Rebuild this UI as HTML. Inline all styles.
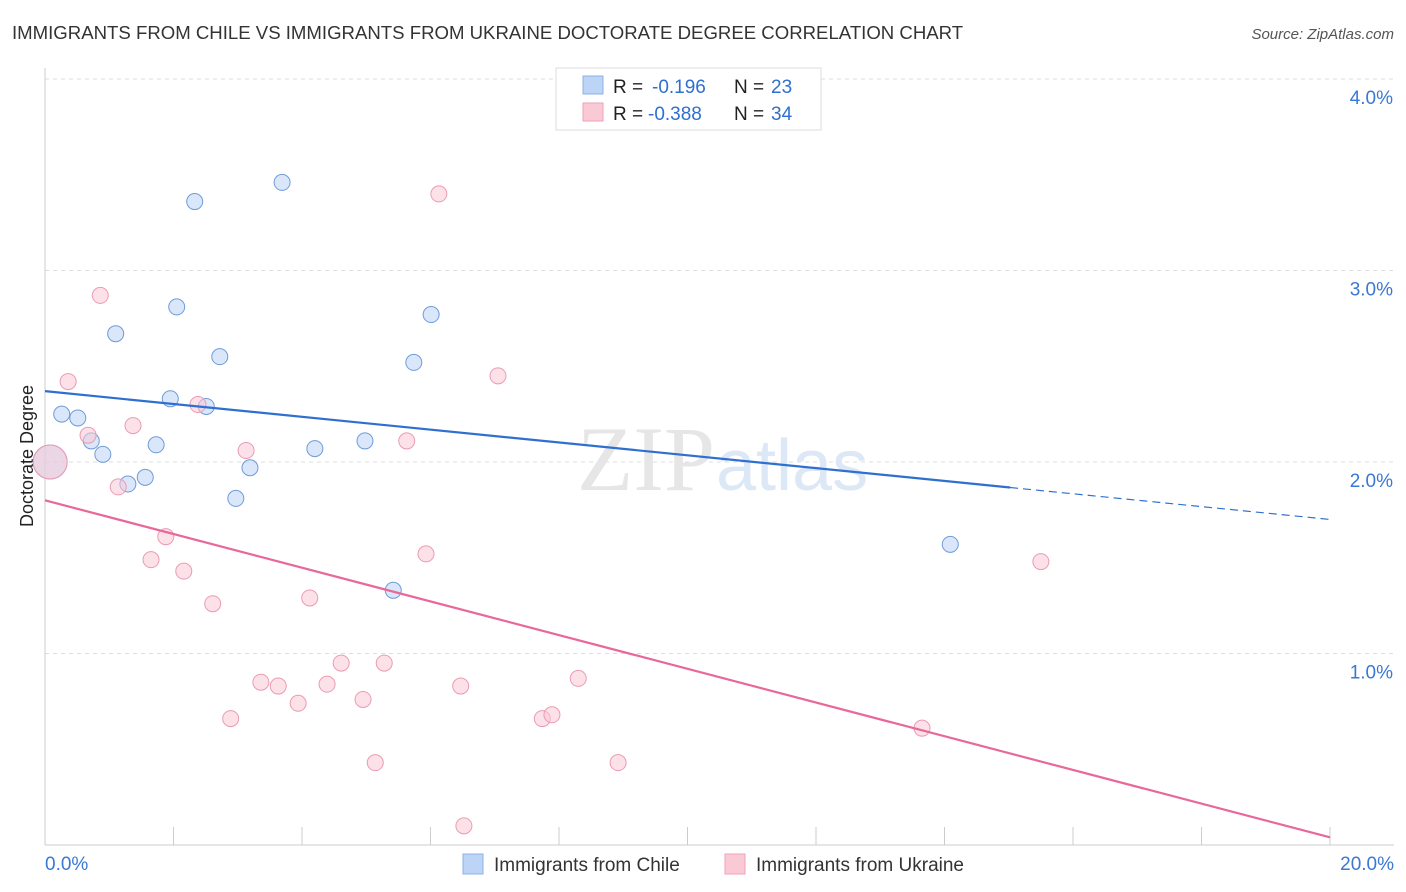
<!DOCTYPE html>
<html><head><meta charset="utf-8">
<style>
body{margin:0;background:#fff;font-family:"Liberation Sans",sans-serif;}
svg{display:block}
</style></head>
<body>
<svg id="chart" width="1406" height="892" xmlns="http://www.w3.org/2000/svg">
<text x="12" y="39" font-size="18.6" fill="#333">IMMIGRANTS FROM CHILE VS IMMIGRANTS FROM UKRAINE DOCTORATE DEGREE CORRELATION CHART</text>
<text x="1394" y="39" font-size="15" fill="#555" font-style="italic" text-anchor="end">Source: ZipAtlas.com</text>
<g id="grid"></g>
<text x="715" y="490" font-size="92" fill="#e6e6e6" text-anchor="end" font-family="Liberation Serif">ZIP</text>
<text x="716" y="490" font-size="72" fill="#dce8f6">atlas</text>
<text transform="translate(33,456) rotate(-90)" font-size="18" fill="#222" text-anchor="middle">Doctorate Degree</text>
<g id="marks"></g>
<g>
<rect x="556" y="68" width="265" height="62" fill="#fff" stroke="#ddd"/>
<rect x="583" y="76" width="20" height="18" fill="#bcd4f6" stroke="#8db0e6"/>
<text x="613" y="93" font-size="19" fill="#222">R = <tspan x="652" fill="#2f6fd0">-0.196</tspan><tspan x="734">N = </tspan><tspan x="771" fill="#2f6fd0">23</tspan></text>
<rect x="583" y="103" width="20" height="18" fill="#f9c9d6" stroke="#f0a2b8"/>
<text x="613" y="120" font-size="19" fill="#222">R = <tspan x="648" fill="#2f6fd0">-0.388</tspan><tspan x="734">N = </tspan><tspan x="771" fill="#2f6fd0">34</tspan></text>
</g>
<g>
<rect x="463" y="854" width="20" height="20" fill="#bcd4f6" stroke="#8db0e6"/>
<text x="494" y="871" font-size="19" fill="#333">Immigrants from Chile</text>
<rect x="725" y="854" width="20" height="20" fill="#f9c9d6" stroke="#f0a2b8"/>
<text x="756" y="871" font-size="19" fill="#333">Immigrants from Ukraine</text>
</g>
</svg>
<script>
const yTicks=[1,2,3,4];
const yTickLabels=["1.0%","2.0%","3.0%","4.0%"];
const xTickLabels=["0.0%","20.0%"];
const chileX=[0.26,0.51,0.72,0.9,1.1,1.29,1.56,1.73,1.95,2.05,2.33,2.51,2.72,2.97,3.19,3.69,4.2,4.98,5.42,5.74,6.01,14.09,0.08];
const chileY=[2.25,2.23,2.11,2.04,2.67,1.885,1.92,2.09,2.33,2.81,3.36,2.29,2.55,1.81,1.97,3.46,2.07,2.11,1.33,2.52,2.77,1.57,2.0];
const ukrX=[0.08,0.36,0.67,0.86,1.14,1.37,1.65,1.88,2.16,2.38,2.61,2.89,3.13,3.36,3.63,3.94,4.12,4.39,4.61,4.95,5.14,5.28,5.63,5.93,6.13,6.47,6.52,7.05,7.74,7.89,8.3,8.92,13.65,15.5];
const ukrY=[2.0,2.42,2.14,2.87,1.87,2.19,1.49,1.61,1.43,2.30,1.26,0.66,2.06,0.85,0.83,0.74,1.29,0.84,0.95,0.76,0.43,0.95,2.11,1.52,3.40,0.83,0.10,2.45,0.66,0.68,0.87,0.43,0.61,1.48];
const chileTrend=[2.37,1.70];
const ukrTrend=[1.80,0.04];
const NS="http://www.w3.org/2000/svg";
const X=v=>45+v*64.25, Y=v=>845-v*191.5;
function mk(t,a,p){const e=document.createElementNS(NS,t);for(const k in a)e.setAttribute(k,a[k]);(p||document.getElementById('marks')).appendChild(e);return e;}
const g=document.getElementById('grid');
yTicks.forEach((t,i)=>{
 const l=mk('line',{x1:45,x2:1394,y1:Y(t),y2:Y(t),stroke:'#ddd','stroke-dasharray':'4,4'},g);
 
 
 const tx=mk('text',{x:1393,y:Y(t)+25,'font-size':19,fill:'#3a78d4','text-anchor':'end'},g);tx.textContent=yTickLabels[i];
 
 
});
const ax=mk('line',{x1:45,x2:45,y1:68,y2:845,stroke:'#ccc'},g);


const bx=mk('line',{x1:45,x2:1394,y1:845,y2:845,stroke:'#ccc'},g);


for(let i=0;i<=10;i++){const t=mk('line',{x1:X(i*2),x2:X(i*2),y1:827,y2:845,stroke:'#ccc'},g);
 
 }
[[0,'start',45],[20,'end',1394]].forEach((d,i)=>{const t=mk('text',{x:d[2],y:870,'font-size':19,fill:'#3a78d4','text-anchor':d[1]},g);t.textContent=xTickLabels[i];
 
 });
function pts(xs,ys,fill,stroke,name,bigIdx){xs.forEach((x,i)=>{const big=i===bigIdx;
 const c=mk('circle',{cx:X(x),cy:Y(ys[i]),r:big?17:8,fill:fill,'fill-opacity':0.55,stroke:stroke,'stroke-width':1});
 
 });}
pts(chileX,chileY,'#bcd4f6','#6f9bd8','chile-point',chileX.length-1);
pts(ukrX,ukrY,'#f9c9d6','#eb9bb3','ukraine-point',0);
const slope=(chileTrend[1]-chileTrend[0])/20, xe=15.02;
const l1=mk('line',{x1:X(0),y1:Y(chileTrend[0]),x2:X(xe),y2:Y(chileTrend[0]+slope*xe),stroke:'#2f6fd0','stroke-width':2.2});


const l2=mk('line',{x1:X(xe),y1:Y(chileTrend[0]+slope*xe),x2:X(20),y2:Y(chileTrend[1]),stroke:'#2f6fd0','stroke-width':1.2,'stroke-dasharray':'8,5'});


const l3=mk('line',{x1:X(0),y1:Y(ukrTrend[0]),x2:X(20),y2:Y(ukrTrend[1]),stroke:'#e8689a','stroke-width':2.2});


</script>
</body></html>
